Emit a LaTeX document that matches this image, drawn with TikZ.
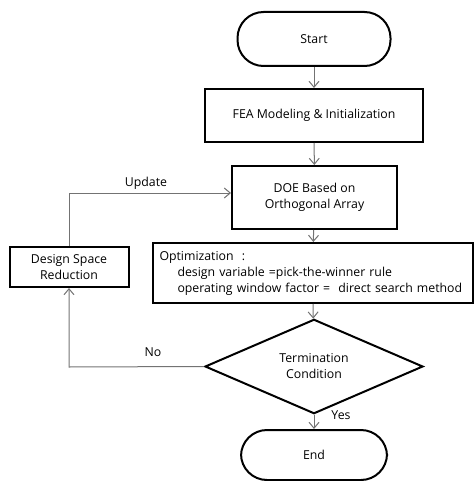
\documentclass[tikz,border=0pt]{standalone}
\usepackage{fontspec}
\setmainfont{Open Sans}
\usetikzlibrary{arrows.meta,shapes.geometric,calc}
\begin{document}
\begin{tikzpicture}[x=1pt,y=-1pt,
  every node/.style={font=\fontsize{12.3}{16}\selectfont, text=black},
  box/.style={draw=black, line width=2pt, inner sep=0pt, align=center},
  term/.style={box, rounded corners=26pt},
  conn/.style={draw=black!55, line width=1pt, -{Straight Barb[length=6pt,width=10pt]}},
  lbl/.style={inner sep=0pt}]
\useasboundingbox (0,0) rectangle (474,481);
\node[term, minimum width=153pt, minimum height=54pt] (start) at (314,39) {Start};
\node[box, minimum width=218pt, minimum height=53pt] (fea) at (314,115.5) {FEA Modeling \& Initialization};
\node[box, minimum width=165pt, minimum height=63pt] (doe) at (314.5,197.5) {DOE Based on\\Orthogonal Array};
\node[box, minimum width=320pt, minimum height=60pt, align=left, text width=306pt] (opt) at (312.5,273) {Optimization\ \ :\\\hspace*{18pt}design variable =pick-the-winner rule\\\hspace*{18pt}operating window factor =\ \ direct search method};
\node[box, minimum width=119pt, minimum height=40pt] (dsr) at (69,267) {Design Space\\Reduction};
\node[draw=black, line width=2pt, diamond, minimum width=218pt, minimum height=79pt, inner sep=0pt, align=center] (tc) at (314,366.5) {Termination\\Condition};
\node[term, minimum width=146pt, minimum height=50pt] (end) at (314,455) {End};
\coordinate (c1) at (69,193);
\coordinate (c2) at (69,367);
\draw[conn] (start) -- (fea);
\draw[conn] (fea) -- (doe);
\draw[conn] (doe) -- (opt);
\draw[conn] (opt) -- (tc);
\draw[conn] (tc) -- (end);
\draw[conn] (dsr.north) -- (c1) -- (c1 -| doe.west);
\draw[conn] (tc.west) -- (c2) -- (dsr.south);
\node[lbl] (up) at (146,183) {Update};
\node[lbl] (no) at (153,352) {No};
\node[lbl] (yes) at (341,415) {Yes};
\end{tikzpicture}
\end{document}
